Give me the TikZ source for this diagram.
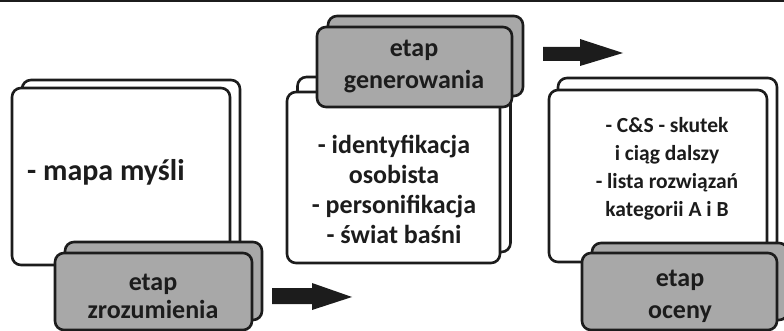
\documentclass[tikz,border=0pt]{standalone}
\usepackage{fontspec}
\setmainfont{Carlito}
\usetikzlibrary{positioning}
\definecolor{cardgray}{RGB}{168,168,168}
\definecolor{inkgray}{RGB}{28,28,28}

\begin{document}
\begin{tikzpicture}[x=1pt, y=-1pt,
    card/.style={draw=inkgray, line width=2.6pt, rounded corners=9pt, fill=white, inner sep=0pt},
    graycard/.style={card, fill=cardgray},
    cardtext/.style={text=inkgray, align=center, inner sep=0pt}]
    \useasboundingbox (0,0) rectangle (784,331);
    \draw[line width=2pt, inkgray] (0,1) -- (784,1);

    % etap zrozumienia
    \node[card, minimum width=218pt, minimum height=177pt] (zrozBack) at (131,168.5) {};
    \node[card, minimum width=218pt, minimum height=177pt] (zrozCard) at (121,176.5) {};
    \node[cardtext, anchor=west, font=\bfseries\fontsize{30}{34}\selectfont] (zrozText) at (27,172) {- mapa myśli};
    \node[graycard, minimum width=197pt, minimum height=78pt] (zrozTagBack) at (163.5,281) {};
    \node[graycard, minimum width=197pt, minimum height=77pt] (zrozTag) at (153.5,291.5) {};
    \node[cardtext, font=\bfseries\fontsize{26}{28}\selectfont] (zrozLabel) at (153,296) {etap\\zrozumienia};

    % etap generowania
    \node[card, minimum width=213pt, minimum height=175pt] (genBack) at (404,164.5) {};
    \node[card, minimum width=213pt, minimum height=171pt] (genCard) at (393.5,177.5) {};
    \node[cardtext, font=\bfseries\fontsize{26}{30}\selectfont] (genText) at (394,189)
        {- identyfikacja\\osobista\\- personifikacja\\- świat baśni};
    \node[graycard, minimum width=195pt, minimum height=80pt] (genTagBack) at (425.5,56) {};
    \node[graycard, minimum width=195pt, minimum height=80pt] (genTag) at (414.5,67) {};
    \node[cardtext, font=\bfseries\fontsize{26}{32}\selectfont] (genLabel) at (414,67) {etap\\generowania};

    % etap oceny
    \node[card, minimum width=219pt, minimum height=172pt] (ocenBack) at (667.5,164) {};
    \node[card, minimum width=218pt, minimum height=172pt] (ocenCard) at (658,176) {};
    \node[cardtext, font=\bfseries\fontsize{21.5}{28}\selectfont] (ocenText) at (667,169)
        {- C\&S - skutek\\i ciąg dalszy\\- lista rozwiązań\\kategorii A i B};
    \node[graycard, minimum width=196pt, minimum height=77pt] (ocenTagBack) at (690,281.5) {};
    \node[graycard, minimum width=195pt, minimum height=77pt] (ocenTag) at (679.5,291.5) {};
    \node[cardtext, font=\bfseries\fontsize{26}{32}\selectfont] (ocenLabel) at (680,296) {etap\\oceny};

    % strzalki
    \fill[inkgray] (272,288) -- (312,288) -- (312,283) -- (352,297) -- (312,310) -- (312,304) -- (272,304) -- cycle;
    \fill[inkgray] (543,47) -- (580,47) -- (580,39) -- (623,53) -- (580,66) -- (580,61) -- (543,61) -- cycle;
\end{tikzpicture}
\end{document}
